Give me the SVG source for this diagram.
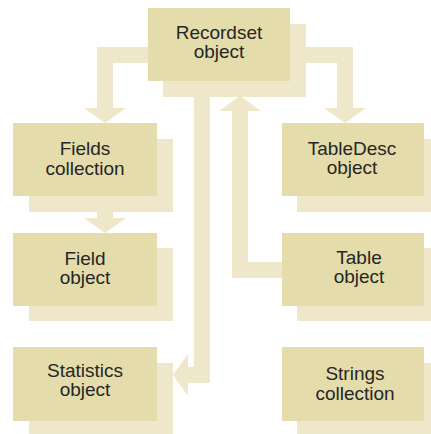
<svg xmlns="http://www.w3.org/2000/svg" width="431" height="434" viewBox="0 0 431 434">
<style>
.box{fill:#e4dcaa}
.sh{fill:#efe7c9}
.c{fill:none;stroke:#efe7c9;stroke-width:16;stroke-linejoin:miter}
text{font-family:"Liberation Sans",Arial,sans-serif;font-size:19px;fill:#262626;text-anchor:middle}
</style>
<defs>
<marker id="ah" markerUnits="userSpaceOnUse" viewBox="0 0 15 42" refX="0" refY="21" markerWidth="15" markerHeight="42" orient="auto">
<path d="M0,0 L15,21 L0,42 Z" fill="#efe7c9"/>
</marker>
</defs>
<rect width="431" height="434" fill="#ffffff"/>
<g id="connectors">
<path class="c" d="M150,55 H105 V108" marker-end="url(#ah)"/>
<path class="c" d="M288,55 H345 V108" marker-end="url(#ah)"/>
<path class="c" d="M105,210 V218" marker-end="url(#ah)"/>
<path class="c" d="M202,95 V375 H188" marker-end="url(#ah)"/>
<path class="c" d="M284,270 H240 V111" marker-end="url(#ah)"/>
</g>
<g id="recordset">
<rect class="sh" x="163" y="24" width="143" height="73"/>
<rect class="box" x="148" y="8" width="142" height="73"/>
<text x="219" y="38.5">Recordset<tspan x="219" dy="19">object</tspan></text>
</g>
<g id="fields">
<rect class="sh" x="29" y="139" width="144" height="73"/>
<rect class="box" x="13" y="123" width="144" height="73"/>
<text x="85" y="155">Fields<tspan x="85" dy="19.5">collection</tspan></text>
</g>
<g id="tabledesc">
<rect class="sh" x="297" y="139" width="142" height="73"/>
<rect class="box" x="282" y="123" width="142" height="73"/>
<text x="352" y="155">TableDesc<tspan x="352" dy="19">object</tspan></text>
</g>
<g id="field">
<rect class="sh" x="29" y="248" width="144" height="73"/>
<rect class="box" x="13" y="233" width="144" height="73"/>
<text x="85" y="265">Field<tspan x="85" dy="19">object</tspan></text>
</g>
<g id="table">
<rect class="sh" x="297" y="248" width="142" height="73"/>
<rect class="box" x="282" y="233" width="142" height="73"/>
<text x="359" y="264">Table<tspan x="359" dy="19">object</tspan></text>
</g>
<g id="statistics">
<rect class="sh" x="29" y="363" width="144" height="74"/>
<rect class="box" x="13" y="347" width="144" height="74"/>
<text x="85" y="377">Statistics<tspan x="85" dy="19">object</tspan></text>
</g>
<g id="strings">
<rect class="sh" x="297" y="363" width="142" height="74"/>
<rect class="box" x="282" y="347" width="142" height="74"/>
<text x="355" y="380">Strings<tspan x="355" dy="20">collection</tspan></text>
</g>
</svg>
